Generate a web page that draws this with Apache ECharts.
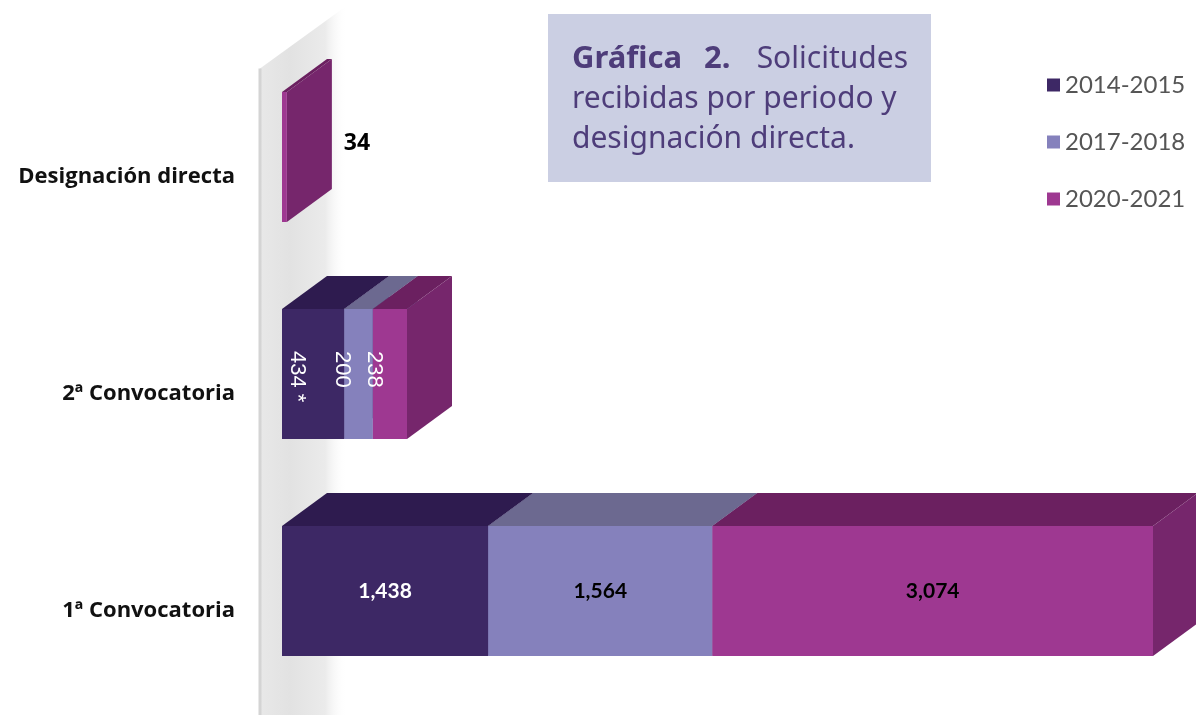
<!DOCTYPE html>
<html><head><meta charset="utf-8">
<script src="https://cdn.jsdelivr.net/npm/echarts/dist/echarts.min.js"></script>
<style>html,body{margin:0;padding:0;background:#fff}#c{width:1196px;height:715px}</style>
</head><body><div id="c"></div>
<script>
// ---- data ----
const categories = ['1ª Convocatoria', '2ª Convocatoria', 'Designación directa'];
const periods = ['2014-2015', '2017-2018', '2020-2021'];
const values2014 = [1438, 434, 0];
const values2017 = [1564, 200, 0];
const values2020 = [3074, 238, 34];
const footnote = { period: '2014-2015', category: '2ª Convocatoria', mark: ' *' };

// ---- styling ----
const seriesValues = [values2014, values2017, values2020];
const palette = [
  { front: '#3d2865', top: '#2e1b4f', side: '#33205a', label: '#ffffff' },
  { front: '#8581bc', top: '#6c6990', side: '#76729f', label: '#000000' },
  { front: '#9e3891', top: '#6b2060', side: '#76266c', label: '#000000' }
];
const DX = 45, DY = 33;

// stacked starts per category
const starts = categories.map(() => 0);
const stacked = seriesValues.map(vals => vals.map((v, ci) => {
  const s = starts[ci]; starts[ci] += v; return [s, s + v, ci, v];
}));
const maxTotal = Math.max(...starts);

function fmt(v) { return v.toLocaleString('en-US'); }

function makeRender(si) {
  const col = palette[si];
  return function (params, api) {
    const start = api.value(0), end = api.value(1), ci = api.value(2), val = api.value(3);
    if (!val) return null;
    const p0 = api.coord([start, ci]);
    const p1 = api.coord([end, ci]);
    const band = api.size([0, 1])[1];
    const h = band * 0.6;
    const x0 = p0[0], x1 = p1[0], yc = p0[1];
    const yt = yc - h / 2, yb = yc + h / 2;
    const children = [
      { type: 'polygon', shape: { points: [[x0, yt], [x1, yt], [x1 + DX, yt - DY], [x0 + DX, yt - DY]] }, style: { fill: col.top } },
      { type: 'polygon', shape: { points: [[x1, yt], [x1 + DX, yt - DY], [x1 + DX, yb - DY], [x1, yb]] }, style: { fill: col.side } },
      { type: 'rect', shape: { x: x0, y: yt, width: x1 - x0, height: h }, style: { fill: col.front } }
    ];
    const cat = categories[ci];
    let text = fmt(val);
    if (cat === footnote.category && periods[si] === footnote.period) text += footnote.mark;
    if (ci === 0) {
      children.push({ type: 'text', name: 'lbl0', x: (x0 + x1) / 2, y: yc, style: { text, align: 'center', verticalAlign: 'middle', fill: col.label, font: 'bold 21px Lato' } });
    } else if (ci === 1) {
      children.push({ type: 'text', name: 'lbl1', x: (x0 + x1) / 2 - 16, y: yc - 23, rotation: -Math.PI / 2, style: { text, align: 'left', verticalAlign: 'middle', fill: '#ffffff', font: '22px "Liberation Sans"' } });
    } else {
      children.push({ type: 'text', name: 'lbl2', x: x1 + DX + 12, y: yc - DY / 2 + 3, style: { text, align: 'left', verticalAlign: 'middle', fill: '#000000', font: 'bold 23px "Open Sans"' } });
    }
    return { type: 'group', children };
  };
}

function renderWall(params, api) {
  const cs = params.coordSys;
  const H = api.getHeight();
  const fx = cs.x - 22, ty = cs.y + 20;
  return {
    type: 'group', children: [
      { type: 'polygon', shape: { points: [[fx, ty], [fx + 2 * DX - 3, ty - 2 * DY + 3], [fx + 2 * DX - 3, H], [fx, H]] },
        style: { fill: new echarts.graphic.LinearGradient(0, 0, 1, 0, [
          { offset: 0, color: '#e8e8e8' }, { offset: 0.35, color: '#e2e2e2' }, { offset: 0.75, color: '#ebebeb' }, { offset: 1, color: 'rgba(255,255,255,0)' }]) } },
      { type: 'line', shape: { x1: fx, y1: ty, x2: fx, y2: H }, style: { stroke: '#d4d4d4', lineWidth: 3 } }
    ]
  };
}

const series = [{
  type: 'custom', name: 'wall', silent: true, z: 1,
  renderItem: renderWall, data: [[0, 0]], encode: { x: 0, y: 1 }
}].concat(periods.map((p, si) => ({
  type: 'custom', name: p, z: 2,
  itemStyle: { color: palette[si].front },
  renderItem: makeRender(si),
  data: stacked[si],
  encode: { x: [0, 1], y: 2 }
})));

const chart = echarts.init(document.getElementById('c'));
chart.setOption({
  animation: false,
  backgroundColor: '#ffffff',
  grid: { left: 282, right: 43, top: 48.5, bottom: 15.5 },
  xAxis: { type: 'value', min: 0, max: maxTotal, show: false },
  yAxis: {
    type: 'category', data: categories,
    axisLine: { show: false }, axisTick: { show: false }, splitLine: { show: false },
    axisLabel: {
      margin: 47, formatter: v => '{a|' + v + '}',
      rich: { a: { color: '#111', fontFamily: '"Open Sans"', fontWeight: 'bold', fontSize: 22, verticalAlign: 'top', lineHeight: 40, height: 40 } },
      verticalAlign: 'top'
    }
  },
  legend: {
    data: periods, orient: 'vertical', left: 1047, top: 73, icon: 'rect', padding: 0,
    itemWidth: 13, itemHeight: 13, itemGap: 33, selectedMode: false,
    textStyle: { fontFamily: 'Lato', fontSize: 24, color: '#555555' }
  },
  graphic: [
    { type: 'rect', shape: { x: 548, y: 14, width: 383, height: 168 }, style: { fill: '#cbcfe3' }, z: 10 },
    { type: 'text', x: 572, y: 59, z: 11, style: { text: 'Gráfica', fontFamily: 'Noto Sans', fontWeight: 'bold', fontSize: 31, fill: '#4e3d7a', verticalAlign: 'middle' } },
    { type: 'text', x: 704, y: 59, z: 11, style: { text: '2.', fontFamily: 'Noto Sans', fontWeight: 'bold', fontSize: 31, fill: '#4e3d7a', verticalAlign: 'middle' } },
    { type: 'text', x: 908, y: 59, z: 11, style: { text: 'Solicitudes', fontFamily: 'Noto Sans', fontSize: 30, fill: '#4e3d7a', align: 'right', verticalAlign: 'middle' } },
    { type: 'text', x: 572, y: 99, z: 11, style: { text: 'recibidas por periodo y', fontFamily: 'Noto Sans', fontSize: 30, fill: '#4e3d7a', verticalAlign: 'middle' } },
    { type: 'text', x: 572, y: 139, z: 11, style: { text: 'designación directa.', fontFamily: 'Noto Sans', fontSize: 30, fill: '#4e3d7a', verticalAlign: 'middle' } }
  ],
  series
});
</script></body></html>
